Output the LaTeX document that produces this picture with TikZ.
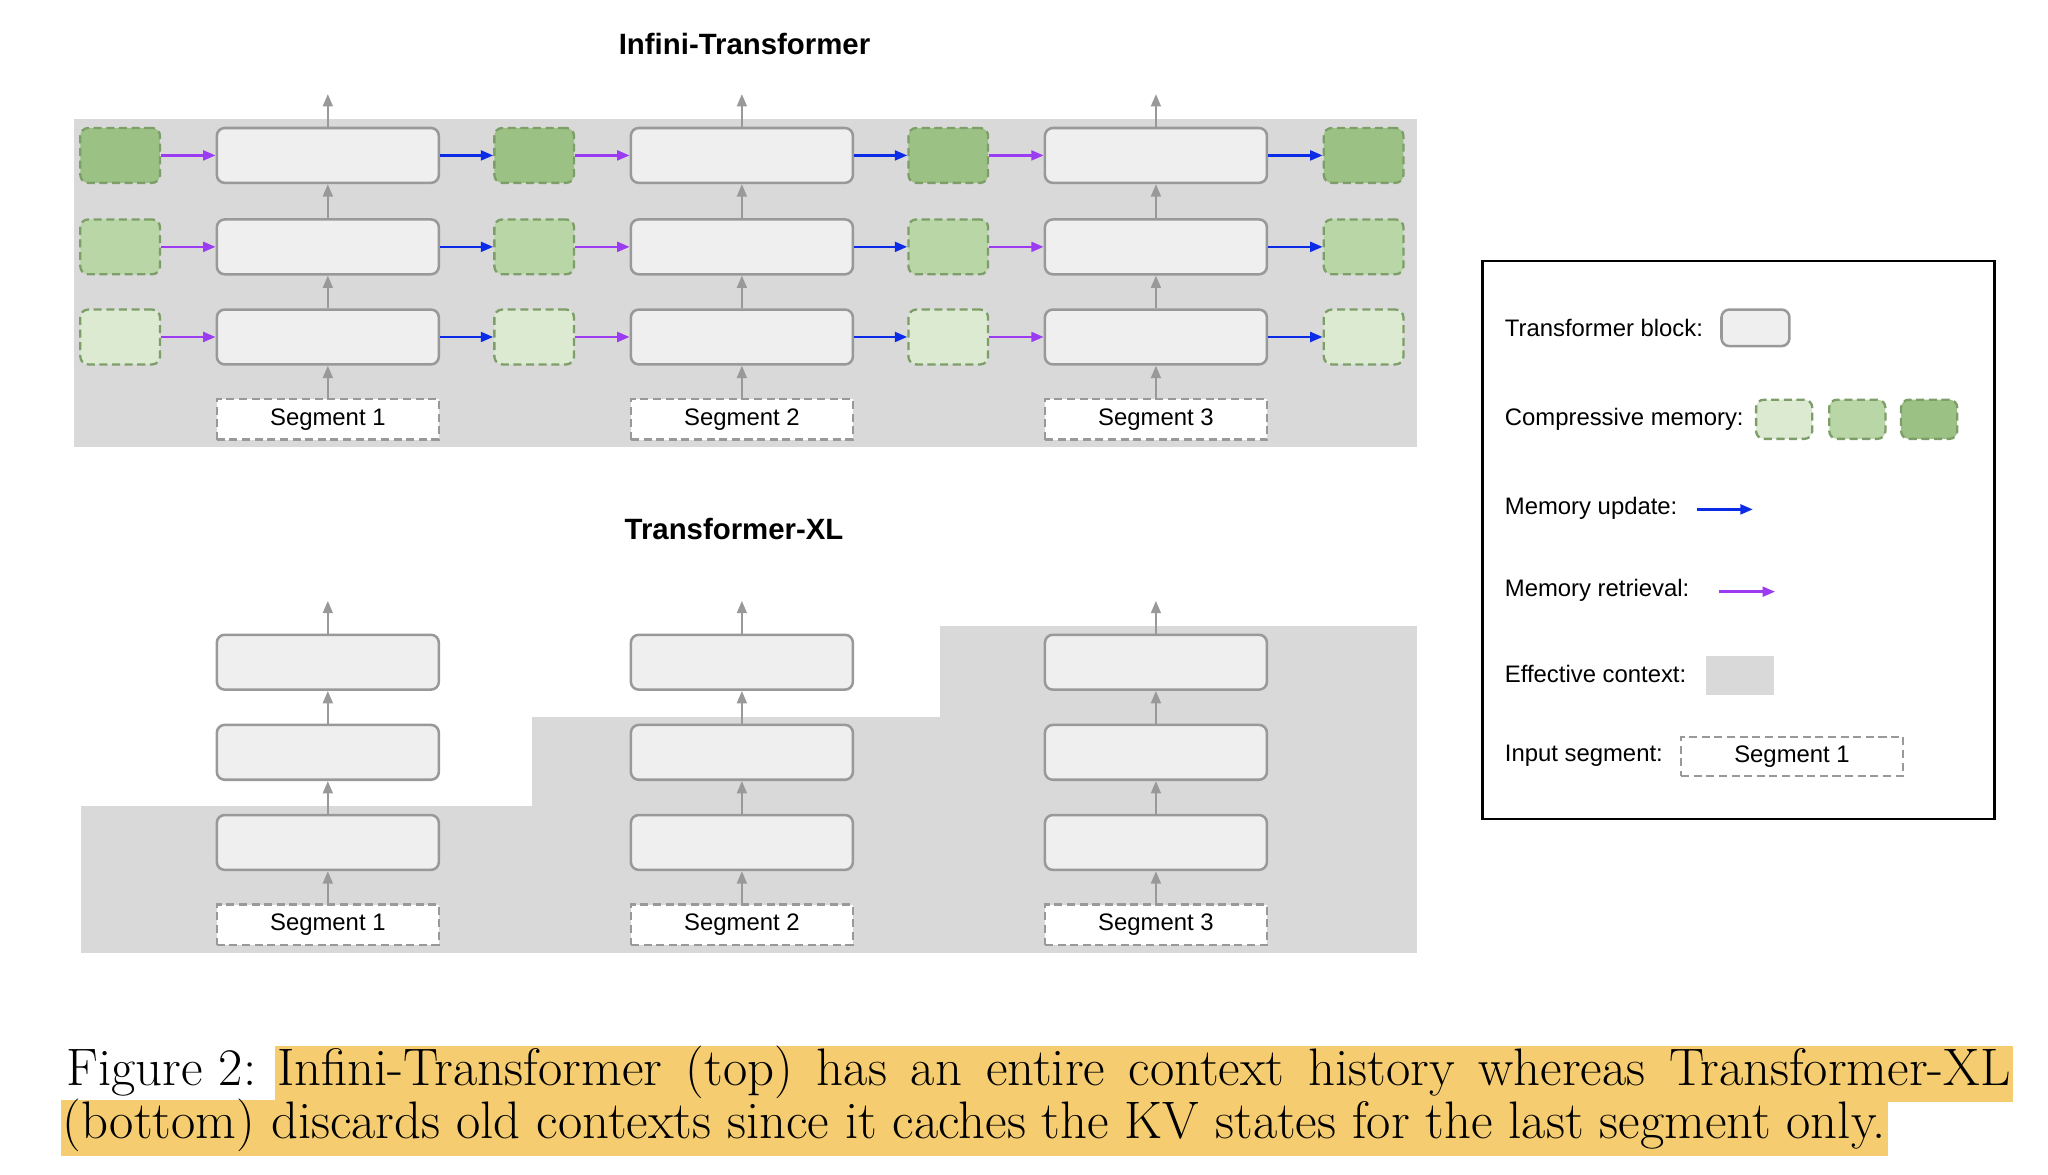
\documentclass[tikz,border=0pt]{standalone}
\usepackage{fontspec}
\setsansfont{Liberation Sans}
\usetikzlibrary{arrows.meta,positioning}
\definecolor{ctxgray}{HTML}{D9D9D9}
\definecolor{blkfill}{HTML}{EFEFEF}
\definecolor{blkline}{HTML}{999999}
\definecolor{memA}{HTML}{DCEAD2}
\definecolor{memB}{HTML}{B9D6A7}
\definecolor{memC}{HTML}{9CC185}
\definecolor{memline}{HTML}{7D9E68}
\definecolor{updblue}{HTML}{0B2BE6}
\definecolor{retpurple}{HTML}{9B3BF2}
\definecolor{hlyellow}{HTML}{F5CD70}

\begin{document}
\begin{tikzpicture}[x=0.02cm,y=-0.02cm,font=\sffamily\fontsize{10.4}{12}\selectfont,>={Triangle[length=0.19cm,width=0.15cm]},
 blk/.style={draw=blkline,fill=blkfill,line width=1.1pt,rounded corners=0.12cm,minimum width=3.4cm,minimum height=0.84cm,inner sep=0pt},
 mem/.style={draw=memline,line width=1pt,dash pattern=on 3.5pt off 2pt,rounded corners=0.12cm,minimum width=1.22cm,minimum height=0.84cm,inner sep=0pt},
 seg/.style={draw=blkline,fill=white,line width=1pt,dash pattern=on 3.5pt off 2pt,minimum width=3.4cm,minimum height=0.62cm,inner sep=0pt},
 up/.style={->,blkline,line width=1pt},
 upd/.style={->,updblue,line width=1.1pt},
 ret/.style={->,retpurple,line width=1.1pt},
 ttl/.style={font=\sffamily\bfseries\fontsize{12.8}{15}\selectfont},
 capline/.style={anchor=base west,inner xsep=1pt,inner ysep=0pt,text height=0.6cm,text depth=0.26cm,font=\rmfamily\fontsize{23}{26}\selectfont}]
 \useasboundingbox (0,0) rectangle (1568,899);

 % Infini-Transformer
 \node[ttl] (ttl-top) at (570,34) {Infini-Transformer};
 \fill[ctxgray] (57,91) rectangle (1085,342);
 \foreach \m/\x in {0/92,1/409,2/726,3/1044}
  \foreach \r/\y/\col in {1/119/memC,2/189/memB,3/258/memA}
   \node[mem,fill=\col] (mem-\m-\r) at (\x,\y) {};
 \foreach \c/\x in {1/251,2/568,3/885} {
  \node[seg] (seg-\c) at (\x,321) {Segment \c};
  \foreach \r/\y in {1/119,2/189,3/258}
   \node[blk] (blk-\c-\r) at (\x,\y) {};
  \coordinate (out-\c) at (\x,72);
  \draw[up] (seg-\c) -- (blk-\c-3);
  \draw[up] (blk-\c-3) -- (blk-\c-2);
  \draw[up] (blk-\c-2) -- (blk-\c-1);
  \draw[up] (blk-\c-1) -- (out-\c);
 }
 \foreach \c/\p in {1/0,2/1,3/2}
  \foreach \r in {1,2,3} {
   \draw[ret] (mem-\p-\r) -- (blk-\c-\r);
   \draw[upd] (blk-\c-\r) -- (mem-\c-\r);
  }

 % Transformer-XL
 \node[ttl] (ttl-xl) at (562,405) {Transformer-XL};
 \fill[ctxgray] (62,617) rectangle (407,730);
 \fill[ctxgray] (407,549) rectangle (720,730);
 \fill[ctxgray] (720,479) rectangle (1085,730);
 \foreach \c/\x in {1/251,2/568,3/885} {
  \node[seg] (xseg-\c) at (\x,708) {Segment \c};
  \foreach \r/\y in {1/507,2/576,3/645}
   \node[blk] (xblk-\c-\r) at (\x,\y) {};
  \coordinate (xout-\c) at (\x,460);
  \draw[up] (xseg-\c) -- (xblk-\c-3);
  \draw[up] (xblk-\c-3) -- (xblk-\c-2);
  \draw[up] (xblk-\c-2) -- (xblk-\c-1);
  \draw[up] (xblk-\c-1) -- (xout-\c);
 }

 % legend
 \draw[line width=0.9pt] (1135,200) rectangle (1527,627);
 \node[anchor=west] (lg-blk) at (1146,251) {Transformer block:};
 \node[blk,minimum width=1.04cm,minimum height=0.56cm] (lg-blk-box) at (1344,251) {};
 \node[anchor=west] (lg-mem) at (1146,321) {Compressive memory:};
 \foreach \i/\x/\col in {1/1366/memA,2/1422/memB,3/1477/memC}
  \node[mem,fill=\col,minimum width=0.86cm,minimum height=0.6cm] (lg-mem-\i) at (\x,321) {};
 \node[anchor=west] (lg-upd) at (1146,389) {Memory update:};
 \coordinate (lg-upd-a) at (1299,390);
 \coordinate (lg-upd-b) at (1342,390);
 \draw[upd] (lg-upd-a) -- (lg-upd-b);
 \node[anchor=west] (lg-ret) at (1146,452) {Memory retrieval:};
 \coordinate (lg-ret-a) at (1316,453);
 \coordinate (lg-ret-b) at (1359,453);
 \draw[ret] (lg-ret-a) -- (lg-ret-b);
 \node[anchor=west] (lg-ctx) at (1146,516) {Effective context:};
 \node[fill=ctxgray,minimum width=1.04cm,minimum height=0.6cm,inner sep=0pt] (lg-ctx-box) at (1332,517) {};
 \node[anchor=west] (lg-seg) at (1146,579) {Input segment:};
 \node[seg,minimum height=0.6cm] (lg-seg-box) at (1372,579) {Segment 1};

 % caption
 \node[capline] (cap-fig) at (49,831) {Figure 2:};
 \node[capline,fill=hlyellow] (cap-a) at (210,831) {\makebox[26.55cm][s]{Infini-Transformer (top) has an entire context history whereas Transformer-XL}};
 \node[capline,fill=hlyellow] (cap-b) at (46,872) {(bottom) discards old contexts since it caches the KV states for the last segment only.};
\end{tikzpicture}
\end{document}
